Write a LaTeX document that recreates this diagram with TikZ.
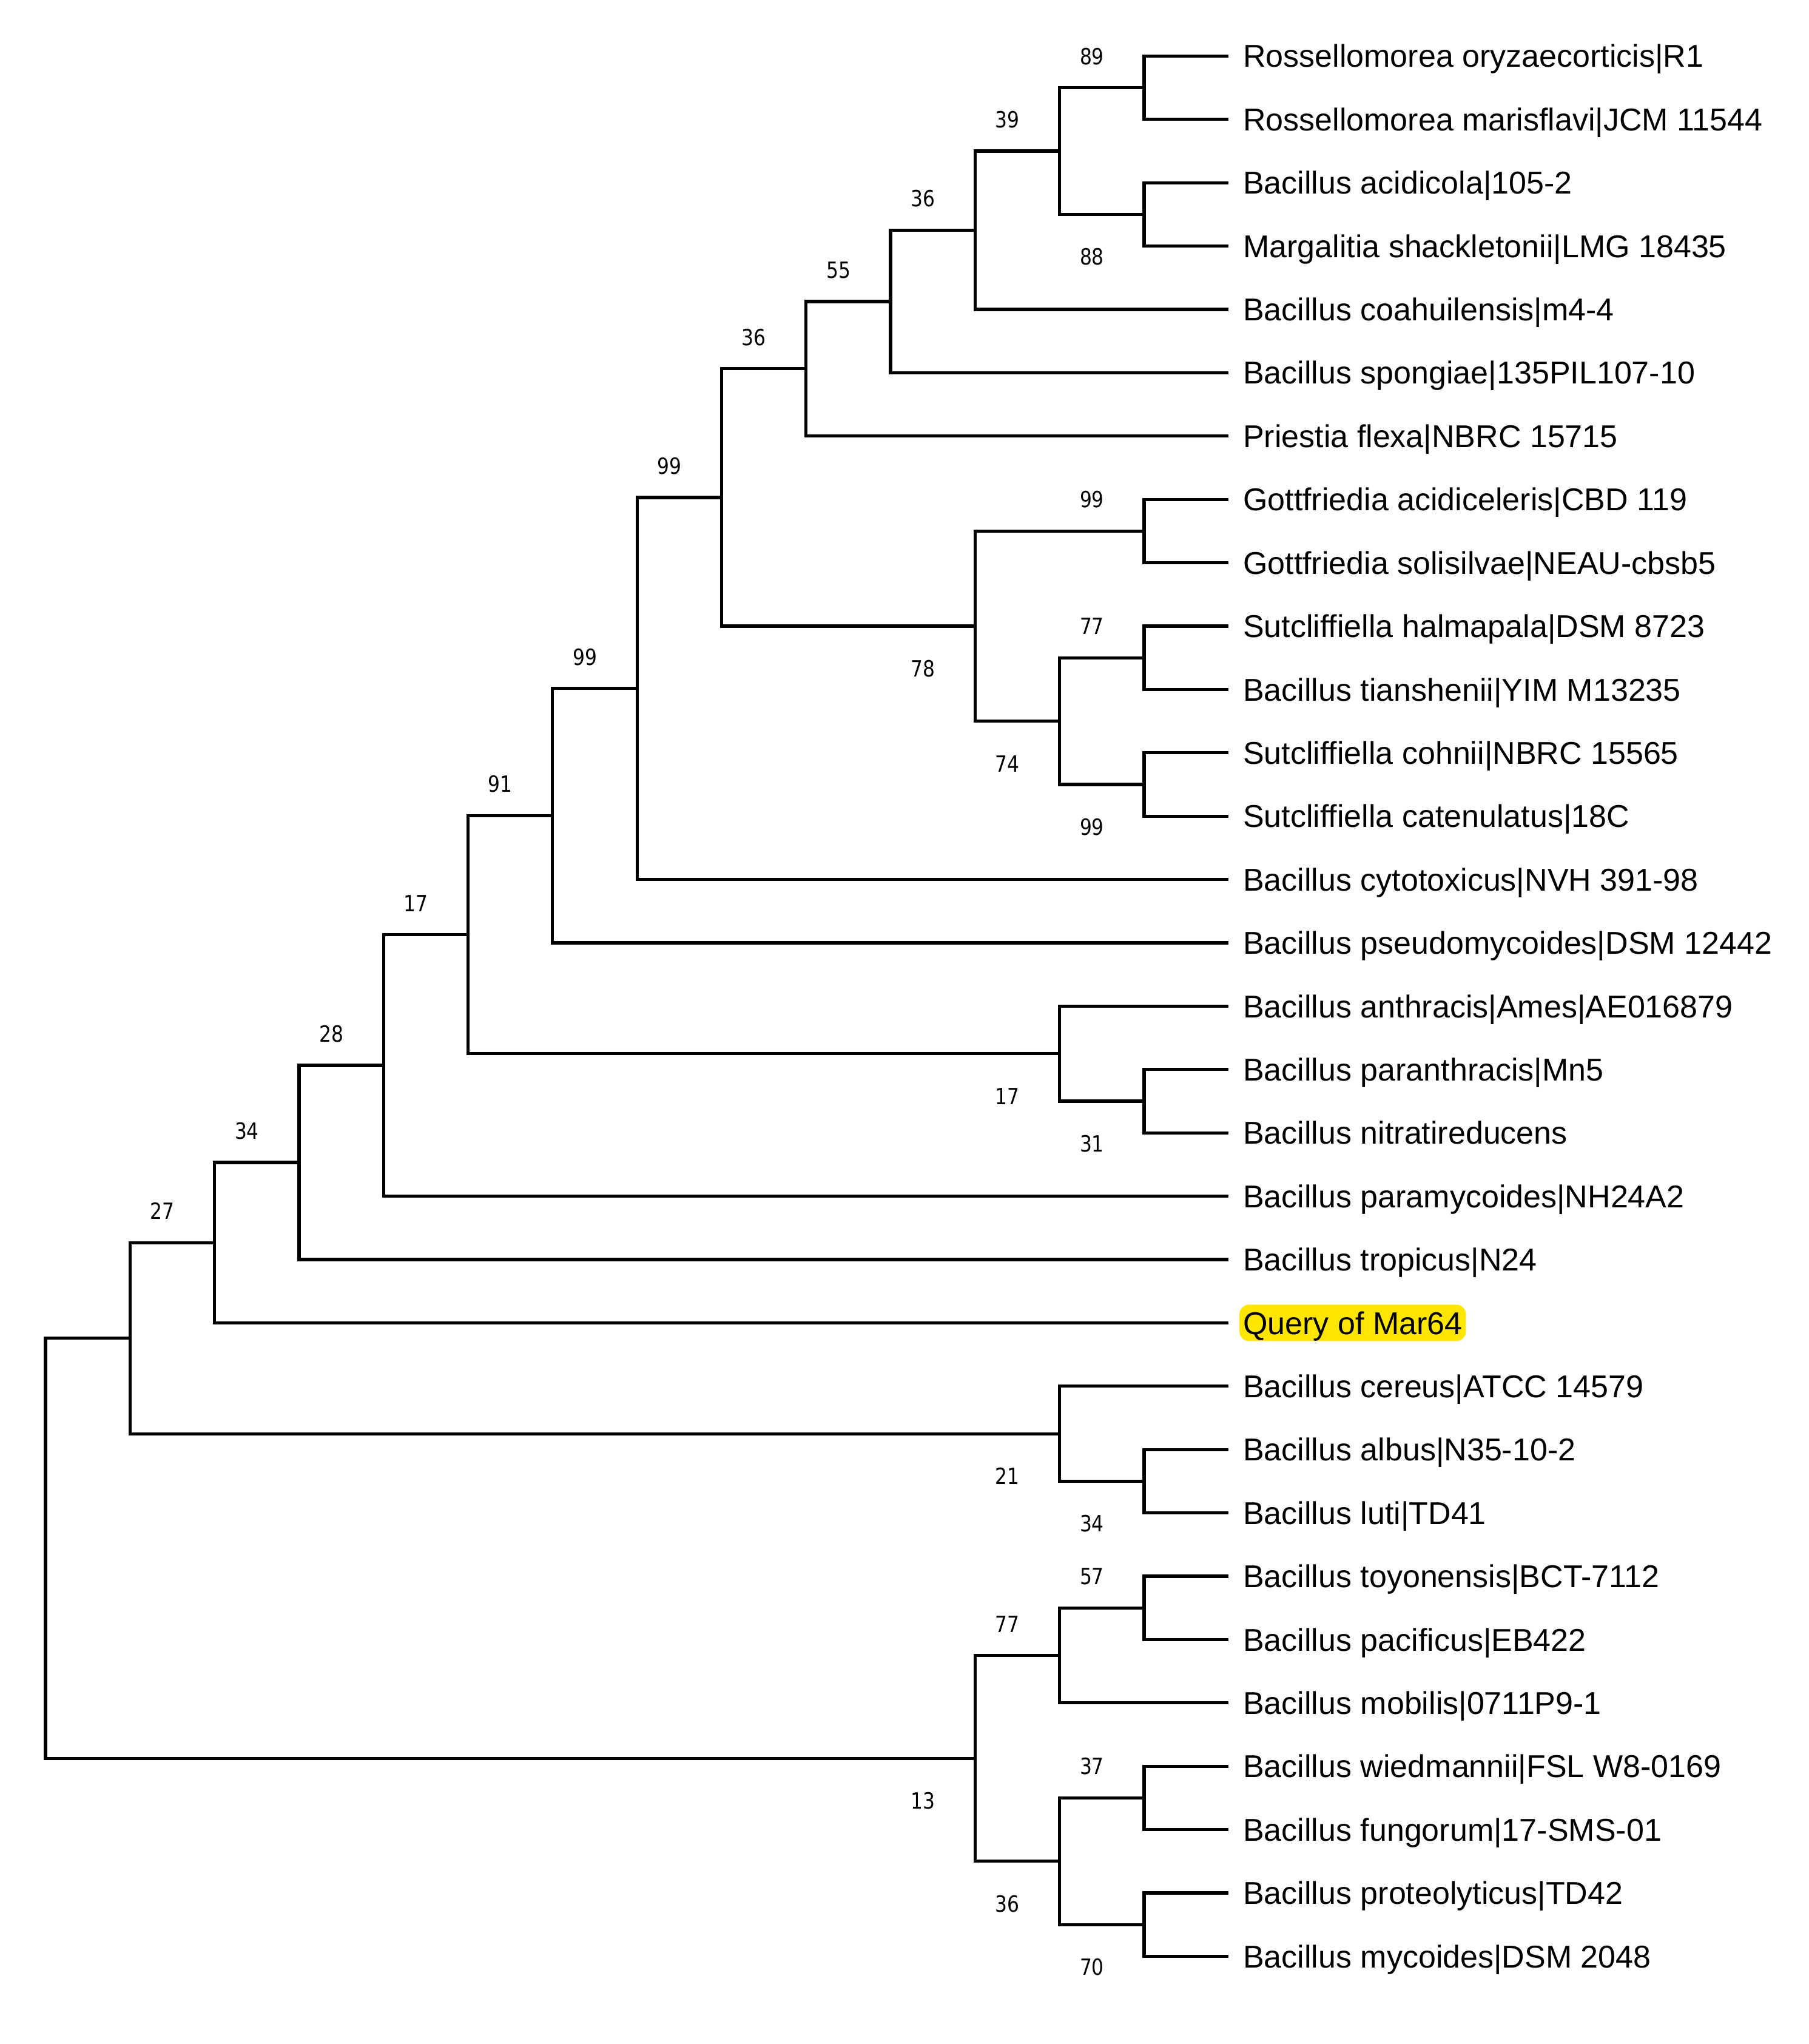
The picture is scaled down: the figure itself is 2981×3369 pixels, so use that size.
\documentclass[tikz,border=0pt]{standalone}
\usepackage{fontspec}
\setmainfont{Liberation Sans}
\newfontfamily\bsfont[FakeStretch=0.85]{DejaVu Sans}
\definecolor{hl}{RGB}{255,230,0}
\newcommand{\lvx}[1]{75+139.3*(#1)}
\newcommand{\lvy}[1]{92.4+104.4*(#1)}
\tikzset{
  br/.style={line width=1.3pt, line join=miter},
  leaf/.style={anchor=west, inner xsep=1.5pt, outer xsep=4.5pt, inner ysep=0pt, outer ysep=0pt,
    text height=9.3pt, text depth=0pt, font=\fontsize{13}{15}\selectfont},
  query/.style={leaf, fill=hl, rounded corners=4pt, minimum height=15pt},
  bs/.style={inner sep=0pt, text height=6.75pt, text depth=0pt, font=\bsfont\fontsize{9.2}{11}\selectfont},
}
\begin{document}
\begin{tikzpicture}[x=0.25pt, y=-0.25pt]
\fill[white] (0,0) rectangle (2981,3369);
\useasboundingbox (0,0) rectangle (2981,3369);

% leaves
\node[leaf] (l0) at ({\lvx{14}},{\lvy{0}}) {Rossellomorea oryzaecorticis|R1};
\node[leaf] (l1) at ({\lvx{14}},{\lvy{1}}) {Rossellomorea marisflavi|JCM 11544};
\node[leaf] (l2) at ({\lvx{14}},{\lvy{2}}) {Bacillus acidicola|105-2};
\node[leaf] (l3) at ({\lvx{14}},{\lvy{3}}) {Margalitia shackletonii|LMG 18435};
\node[leaf] (l4) at ({\lvx{14}},{\lvy{4}}) {Bacillus coahuilensis|m4-4};
\node[leaf] (l5) at ({\lvx{14}},{\lvy{5}}) {Bacillus spongiae|135PIL107-10};
\node[leaf] (l6) at ({\lvx{14}},{\lvy{6}}) {Priestia flexa|NBRC 15715};
\node[leaf] (l7) at ({\lvx{14}},{\lvy{7}}) {Gottfriedia acidiceleris|CBD 119};
\node[leaf] (l8) at ({\lvx{14}},{\lvy{8}}) {Gottfriedia solisilvae|NEAU-cbsb5};
\node[leaf] (l9) at ({\lvx{14}},{\lvy{9}}) {Sutcliffiella halmapala|DSM 8723};
\node[leaf] (l10) at ({\lvx{14}},{\lvy{10}}) {Bacillus tianshenii|YIM M13235};
\node[leaf] (l11) at ({\lvx{14}},{\lvy{11}}) {Sutcliffiella cohnii|NBRC 15565};
\node[leaf] (l12) at ({\lvx{14}},{\lvy{12}}) {Sutcliffiella catenulatus|18C};
\node[leaf] (l13) at ({\lvx{14}},{\lvy{13}}) {Bacillus cytotoxicus|NVH 391-98};
\node[leaf] (l14) at ({\lvx{14}},{\lvy{14}}) {Bacillus pseudomycoides|DSM 12442};
\node[leaf] (l15) at ({\lvx{14}},{\lvy{15}}) {Bacillus anthracis|Ames|AE016879};
\node[leaf] (l16) at ({\lvx{14}},{\lvy{16}}) {Bacillus paranthracis|Mn5};
\node[leaf] (l17) at ({\lvx{14}},{\lvy{17}}) {Bacillus nitratireducens};
\node[leaf] (l18) at ({\lvx{14}},{\lvy{18}}) {Bacillus paramycoides|NH24A2};
\node[leaf] (l19) at ({\lvx{14}},{\lvy{19}}) {Bacillus tropicus|N24};
\node[query] (l20) at ({\lvx{14}},{\lvy{20}}) {Query of Mar64};
\node[leaf] (l21) at ({\lvx{14}},{\lvy{21}}) {Bacillus cereus|ATCC 14579};
\node[leaf] (l22) at ({\lvx{14}},{\lvy{22}}) {Bacillus albus|N35-10-2};
\node[leaf] (l23) at ({\lvx{14}},{\lvy{23}}) {Bacillus luti|TD41};
\node[leaf] (l24) at ({\lvx{14}},{\lvy{24}}) {Bacillus toyonensis|BCT-7112};
\node[leaf] (l25) at ({\lvx{14}},{\lvy{25}}) {Bacillus pacificus|EB422};
\node[leaf] (l26) at ({\lvx{14}},{\lvy{26}}) {Bacillus mobilis|0711P9-1};
\node[leaf] (l27) at ({\lvx{14}},{\lvy{27}}) {Bacillus wiedmannii|FSL W8-0169};
\node[leaf] (l28) at ({\lvx{14}},{\lvy{28}}) {Bacillus fungorum|17-SMS-01};
\node[leaf] (l29) at ({\lvx{14}},{\lvy{29}}) {Bacillus proteolyticus|TD42};
\node[leaf] (l30) at ({\lvx{14}},{\lvy{30}}) {Bacillus mycoides|DSM 2048};

% internal nodes
\coordinate (n89)  at ({\lvx{13}},{\lvy{0.5}});
\coordinate (n88)  at ({\lvx{13}},{\lvy{2.5}});
\coordinate (n39)  at ({\lvx{12}},{\lvy{1.5}});
\coordinate (n36a) at ({\lvx{11}},{\lvy{2.75}});
\coordinate (n55)  at ({\lvx{10}},{\lvy{3.875}});
\coordinate (n36b) at ({\lvx{9}},{\lvy{4.9375}});
\coordinate (g99)  at ({\lvx{13}},{\lvy{7.5}});
\coordinate (s77)  at ({\lvx{13}},{\lvy{9.5}});
\coordinate (s99)  at ({\lvx{13}},{\lvy{11.5}});
\coordinate (s74)  at ({\lvx{12}},{\lvy{10.5}});
\coordinate (n78)  at ({\lvx{11}},{\lvy{9}});
\coordinate (n99a) at ({\lvx{8}},{\lvy{6.96875}});
\coordinate (n99b) at ({\lvx{7}},{\lvy{9.984375}});
\coordinate (n91)  at ({\lvx{6}},{\lvy{11.9921875}});
\coordinate (a31)  at ({\lvx{13}},{\lvy{16.5}});
\coordinate (a17)  at ({\lvx{12}},{\lvy{15.75}});
\coordinate (n17)  at ({\lvx{5}},{\lvy{13.87109}});
\coordinate (n28)  at ({\lvx{4}},{\lvy{15.93555}});
\coordinate (n34)  at ({\lvx{3}},{\lvy{17.46777}});
\coordinate (n27)  at ({\lvx{2}},{\lvy{18.73389}});
\coordinate (c34)  at ({\lvx{13}},{\lvy{22.5}});
\coordinate (c21)  at ({\lvx{12}},{\lvy{21.75}});
\coordinate (nk1)  at ({\lvx{1}},{\lvy{20.24194}});
\coordinate (t57)  at ({\lvx{13}},{\lvy{24.5}});
\coordinate (t77)  at ({\lvx{12}},{\lvy{25.25}});
\coordinate (t37)  at ({\lvx{13}},{\lvy{27.5}});
\coordinate (t70)  at ({\lvx{13}},{\lvy{29.5}});
\coordinate (t36)  at ({\lvx{12}},{\lvy{28.5}});
\coordinate (n13)  at ({\lvx{11}},{\lvy{26.875}});
\coordinate (root) at ({\lvx{0}},{\lvy{23.55847}});

% branches
\draw[br] (l0.west) -| (n89) |- (l1.west);
\draw[br] (l2.west) -| (n88) |- (l3.west);
\draw[br] (n89) -| (n39) |- (n88);
\draw[br] (n39) -| (n36a) |- (l4.west);
\draw[br] (n36a) -| (n55) |- (l5.west);
\draw[br] (n55) -| (n36b) |- (l6.west);
\draw[br] (l7.west) -| (g99) |- (l8.west);
\draw[br] (l9.west) -| (s77) |- (l10.west);
\draw[br] (l11.west) -| (s99) |- (l12.west);
\draw[br] (s77) -| (s74) |- (s99);
\draw[br] (g99) -| (n78) |- (s74);
\draw[br] (n36b) -| (n99a) |- (n78);
\draw[br] (n99a) -| (n99b) |- (l13.west);
\draw[br] (n99b) -| (n91) |- (l14.west);
\draw[br] (l16.west) -| (a31) |- (l17.west);
\draw[br] (l15.west) -| (a17) |- (a31);
\draw[br] (n91) -| (n17) |- (a17);
\draw[br] (n17) -| (n28) |- (l18.west);
\draw[br] (n28) -| (n34) |- (l19.west);
\draw[br] (n34) -| (n27) |- (l20.west);
\draw[br] (l22.west) -| (c34) |- (l23.west);
\draw[br] (l21.west) -| (c21) |- (c34);
\draw[br] (n27) -| (nk1) |- (c21);
\draw[br] (l24.west) -| (t57) |- (l25.west);
\draw[br] (t57) -| (t77) |- (l26.west);
\draw[br] (l27.west) -| (t37) |- (l28.west);
\draw[br] (l29.west) -| (t70) |- (l30.west);
\draw[br] (t37) -| (t36) |- (t70);
\draw[br] (t77) -| (n13) |- (t36);
\draw[br] (nk1) -| (root) |- (n13);

% bootstrap values above
\node[bs] (b89)  at ([shift={(-86,-52)}]n89) {89};
\node[bs] (b39)  at ([shift={(-86,-52)}]n39) {39};
\node[bs] (b36a) at ([shift={(-86,-52)}]n36a) {36};
\node[bs] (b55)  at ([shift={(-86,-52)}]n55) {55};
\node[bs] (b36b) at ([shift={(-86,-52)}]n36b) {36};
\node[bs] (b99a) at ([shift={(-86,-52)}]n99a) {99};
\node[bs] (b99b) at ([shift={(-86,-52)}]n99b) {99};
\node[bs] (b91)  at ([shift={(-86,-52)}]n91) {91};
\node[bs] (b17)  at ([shift={(-86,-52)}]n17) {17};
\node[bs] (b28)  at ([shift={(-86,-52)}]n28) {28};
\node[bs] (b34)  at ([shift={(-86,-52)}]n34) {34};
\node[bs] (b27)  at ([shift={(-86,-52)}]n27) {27};
\node[bs] (bg99) at ([shift={(-86,-52)}]g99) {99};
\node[bs] (bs77) at ([shift={(-86,-52)}]s77) {77};
\node[bs] (bt57) at ([shift={(-86,-52)}]t57) {57};
\node[bs] (bt77) at ([shift={(-86,-52)}]t77) {77};
\node[bs] (bt37) at ([shift={(-86,-52)}]t37) {37};
% bootstrap values below
\node[bs] (b88)  at ([shift={(-86,70)}]n88) {88};
\node[bs] (b78)  at ([shift={(-86,70)}]n78) {78};
\node[bs] (bs74) at ([shift={(-86,70)}]s74) {74};
\node[bs] (bs99) at ([shift={(-86,70)}]s99) {99};
\node[bs] (ba17) at ([shift={(-86,70)}]a17) {17};
\node[bs] (ba31) at ([shift={(-86,70)}]a31) {31};
\node[bs] (bc21) at ([shift={(-86,70)}]c21) {21};
\node[bs] (bc34) at ([shift={(-86,70)}]c34) {34};
\node[bs] (b13)  at ([shift={(-86,70)}]n13) {13};
\node[bs] (bt36) at ([shift={(-86,70)}]t36) {36};
\node[bs] (bt70) at ([shift={(-86,70)}]t70) {70};
\end{tikzpicture}
\end{document}
